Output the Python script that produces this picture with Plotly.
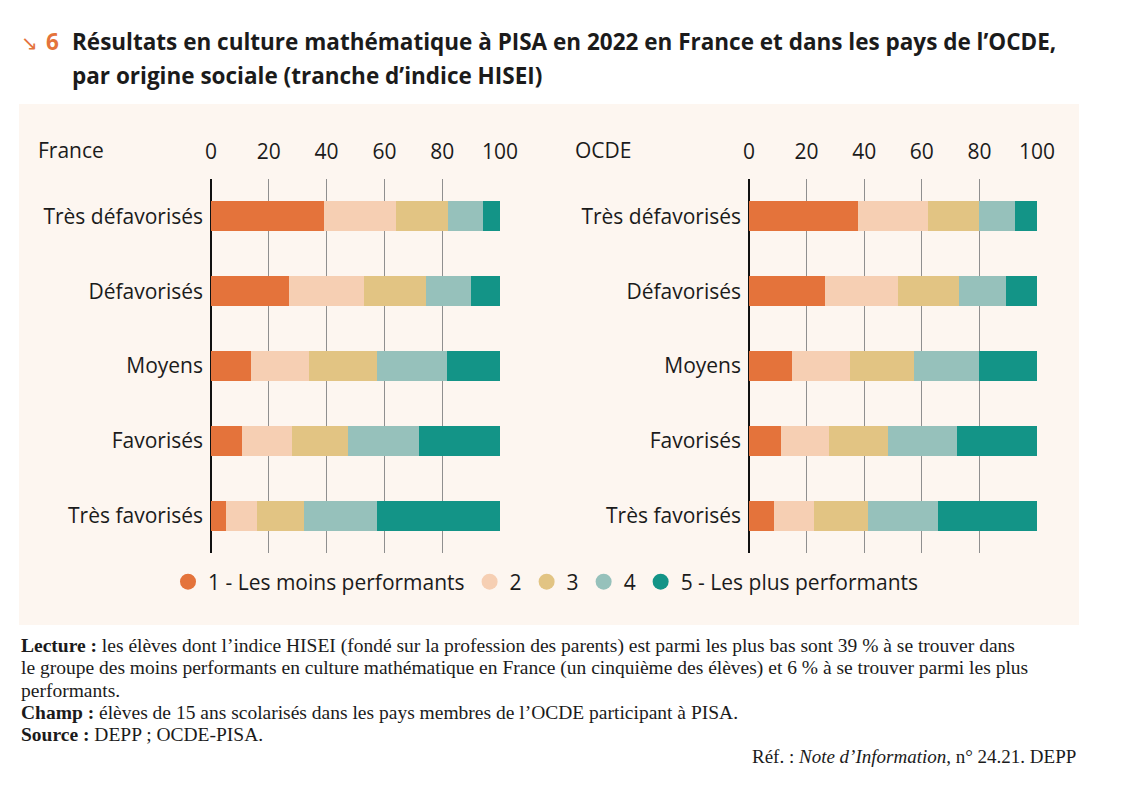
import plotly.graph_objects as go

categories = ["Très défavorisés", "Défavorisés", "Moyens", "Favorisés", "Très favorisés"]
level_names = ["1 - Les moins performants", "2", "3", "4", "5 - Les plus performants"]

france_l1 = [39, 27, 14, 10.6, 5.3]
france_l2 = [25, 26, 20, 17.3, 10.5]
france_l3 = [18, 21.5, 23.6, 19.6, 16.5]
france_l4 = [12, 15.5, 24.1, 24.4, 25.3]
france_l5 = [6, 10, 18.3, 28.1, 42.4]

ocde_l1 = [37.7, 26.3, 14.8, 11.2, 8.8]
ocde_l2 = [24.3, 25.5, 20.4, 16.6, 13.8]
ocde_l3 = [17.7, 21.0, 22.2, 20.3, 18.8]
ocde_l4 = [12.5, 16.5, 22.4, 24.2, 24.3]
ocde_l5 = [7.8, 10.7, 20.2, 27.7, 34.3]

tick_vals = [0, 20, 40, 60, 80, 100]

france = [france_l1, france_l2, france_l3, france_l4, france_l5]
ocde = [ocde_l1, ocde_l2, ocde_l3, ocde_l4, ocde_l5]
colors = ["#E4733B", "#F6CFB3", "#E2C483", "#96C1BB", "#139487"]

W, H = 1124, 788
def px(x):
    return x / W
def py(y):
    return 1 - y / H

BG = "#FDF6F0"
TXT = "#1b1b1b"
FONT = "Open Sans"
FS = 21

fig = go.Figure()
for i in range(5):
    fig.add_trace(go.Bar(y=categories, x=france[i], orientation="h", marker=dict(color=colors[i], line=dict(width=0)),
                         name=level_names[i], showlegend=False, xaxis="x", yaxis="y", hoverinfo="x+y"))
    fig.add_trace(go.Bar(y=categories, x=ocde[i], orientation="h", marker=dict(color=colors[i], line=dict(width=0)),
                         name=level_names[i], showlegend=False, xaxis="x2", yaxis="y2", hoverinfo="x+y"))
for i in range(5):
    fig.add_trace(go.Scatter(x=[None], y=[None], mode="markers", name=level_names[i],
                             marker=dict(symbol="circle", size=19, color=colors[i]),
                             xaxis="x", yaxis="y", showlegend=True))

xcommon = dict(range=[0, 100], tickvals=tick_vals, side="top", showgrid=True, gridcolor="#8f8f8f", gridwidth=1,
               zeroline=True, zerolinecolor="#111111", zerolinewidth=1.5, ticks="", showline=False,
               tickfont=dict(family=FONT, size=FS, color=TXT), ticklabelstandoff=15, fixedrange=True,
               automargin=False)
ycommon = dict(type="category", categoryorder="array", categoryarray=categories, range=[4.5, -0.5],
               domain=[py(553), py(179)], showgrid=False, ticks="", showline=False,
               tickfont=dict(family=FONT, size=FS, color=TXT), ticklabelstandoff=7, fixedrange=True,
               automargin=False)

fig.update_layout(
    width=W, height=H, autosize=False,
    margin=dict(l=0, r=0, t=0, b=0, pad=0, autoexpand=False),
    paper_bgcolor="white", plot_bgcolor="rgba(0,0,0,0)",
    barmode="stack", bargap=0.6,
    xaxis=dict(domain=[px(211), px(500)], anchor="y", **xcommon),
    xaxis2=dict(domain=[px(749), px(1037)], anchor="y2", **xcommon),
    yaxis=dict(anchor="x", **ycommon),
    yaxis2=dict(anchor="x2", **ycommon),
    legend=dict(orientation="h", x=px(546), xanchor="center", y=py(582), yanchor="middle",
                font=dict(family=FONT, size=FS, color=TXT), bgcolor="rgba(0,0,0,0)", traceorder="normal",
                itemclick=False, itemdoubleclick=False),
    showlegend=True,
    shapes=[dict(type="rect", xref="paper", yref="paper", x0=px(19), x1=px(1079), y0=py(625), y1=py(104),
                 fillcolor=BG, line=dict(width=0), layer="below")],
)

annotations = [
    dict(text="France", x=px(36), y=py(150), xanchor="left", yanchor="middle",
         font=dict(family=FONT, size=FS, color=TXT)),
    dict(text="OCDE", x=px(573), y=py(150), xanchor="left", yanchor="middle",
         font=dict(family=FONT, size=FS, color=TXT)),
    dict(text="↘", x=px(19), y=py(43), xanchor="left", yanchor="middle",
         font=dict(family="DejaVu Sans", size=20, color="#E4733B")),
    dict(text="<b>6</b>", x=px(44), y=py(42), xanchor="left", yanchor="middle",
         font=dict(family=FONT, size=22.5, color="#E4733B")),
    dict(text="<b>Résultats en culture mathématique à PISA en 2022 en France et dans les pays de l’OCDE,</b>",
         x=px(70), y=py(42), xanchor="left", yanchor="middle",
         font=dict(family=FONT, size=22.5, color=TXT)),
    dict(text="<b>par origine sociale (tranche d’indice HISEI)</b>",
         x=px(70), y=py(76), xanchor="left", yanchor="middle",
         font=dict(family=FONT, size=22.5, color=TXT)),
]

foot_lines = [
    "<b>Lecture :</b> les élèves dont l’indice HISEI (fondé sur la profession des parents) est parmi les plus bas sont 39 % à se trouver dans",
    "le groupe des moins performants en culture mathématique en France (un cinquième des élèves) et 6 % à se trouver parmi les plus",
    "performants.",
    "<b>Champ :</b> élèves de 15 ans scolarisés dans les pays membres de l’OCDE participant à PISA.",
    "<b>Source :</b> DEPP ; OCDE-PISA.",
]
foot_y = [646, 668, 690, 712, 734]
for t, yy in zip(foot_lines, foot_y):
    annotations.append(dict(text=t, x=px(19), y=py(yy), xanchor="left", yanchor="middle",
                            font=dict(family="Liberation Serif", size=19.5, color=TXT)))
annotations.append(dict(text="Réf. : <i>Note d’Information</i>, n° 24.21. DEPP", x=px(1078), y=py(756),
                        xanchor="right", yanchor="middle",
                        font=dict(family="Liberation Serif", size=19, color=TXT)))

for a in annotations:
    a.update(xref="paper", yref="paper", showarrow=False)
fig.update_layout(annotations=annotations)

fig.write_html("out.html", config={"responsive": False, "displayModeBar": False},
               post_script="document.body.style.margin='0';")
